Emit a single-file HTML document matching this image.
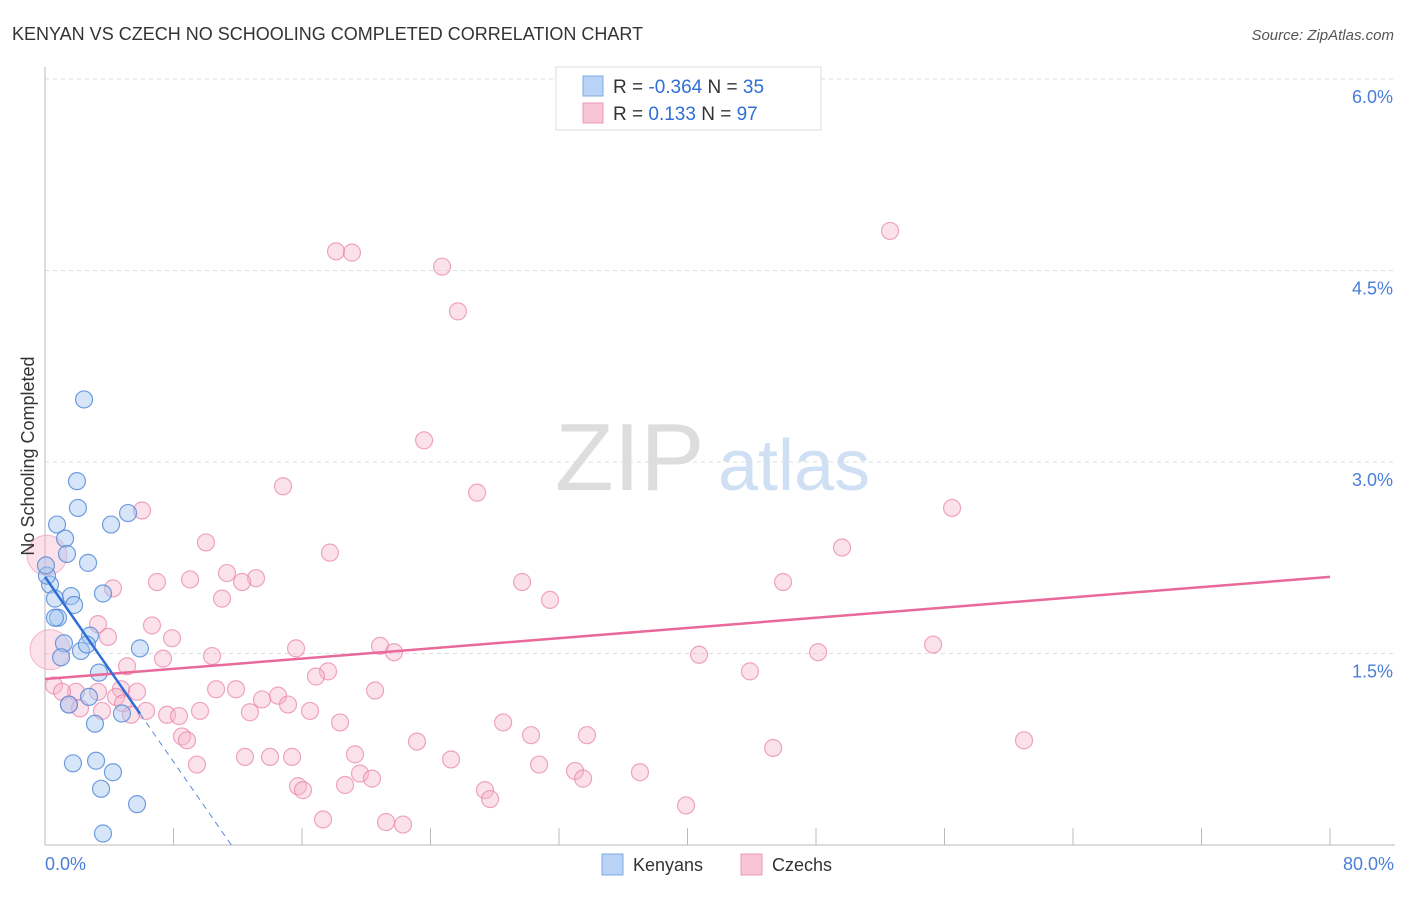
<!DOCTYPE html>
<html><head><meta charset="utf-8"><style>
body{margin:0;background:#fff;font-family:"Liberation Sans",sans-serif}
svg text{font-family:"Liberation Sans",sans-serif}
</style></head><body>
<svg width="1406" height="892" viewBox="0 0 1406 892">
<text x="12" y="40" font-size="18" fill="#333">KENYAN VS CZECH NO SCHOOLING COMPLETED CORRELATION CHART</text>
<text x="1394" y="40" font-size="15" fill="#555" font-style="italic" text-anchor="end">Source: ZipAtlas.com</text>
<text x="555" y="490" font-size="96" fill="#ddd" font-family="Liberation Serif">ZIP</text>
<text x="718" y="490" font-size="72" fill="#cfe0f5">atlas</text>
<g id="grid"></g>
<g id="axes"></g>
<g id="marks"></g>
<text transform="translate(34,456) rotate(-90)" font-size="18" fill="#333" text-anchor="middle">No Schooling Completed</text>
<text x="45" y="870" font-size="18" fill="#4a7fd8">0.0%</text>
<text x="1394" y="870" font-size="18" fill="#4a7fd8" text-anchor="end">80.0%</text>
<g>
<rect x="556" y="67" width="265" height="63" fill="#fff" stroke="#ddd"/>
<rect x="583" y="76" width="20" height="20" fill="#b8d3f5" stroke="#7fa8e0"/>
<rect x="583" y="103" width="20" height="20" fill="#f8c5d6" stroke="#eb98b5"/>
<text x="613" y="93" font-size="19" fill="#333">R = <tspan fill="#2f6fd6">-0.364</tspan>   N = <tspan fill="#2f6fd6">35</tspan></text>
<text x="613" y="120" font-size="19" fill="#333">R =   <tspan fill="#2f6fd6">0.133</tspan>   N = <tspan fill="#2f6fd6">97</tspan></text>
</g>
<g><rect x="602" y="854" width="21" height="21" fill="#b8d3f5" stroke="#7fa8e0"/><text x="633" y="871" font-size="18" fill="#333">Kenyans</text></g>
<g><rect x="741" y="854" width="21" height="21" fill="#f8c5d6" stroke="#eb98b5"/><text x="772" y="871" font-size="18" fill="#333">Czechs</text></g>
</svg>
<script>
const yTicks=[1.5,3.0,4.5,6.0];
const yTickLabels=["1.5%","3.0%","4.5%","6.0%"];
const xTicks=[0,8,16,24,32,40,48,56,64,72,80];
const kenyanX=[2.43,1.99,2.05,0.75,4.11,5.17,1.25,1.37,2.68,0.31,0.12,0.62,1.62,3.61,1.81,0.81,1.18,2.80,1.00,2.24,2.61,5.91,3.36,0.62,2.74,1.49,4.79,3.11,1.74,3.18,4.23,3.49,5.73,3.61,0.06];
const kenyanY=[3.49,2.85,2.64,2.51,2.51,2.60,2.40,2.28,2.21,2.04,2.11,1.93,1.95,1.97,1.88,1.78,1.58,1.64,1.47,1.52,1.57,1.54,1.35,1.78,1.16,1.10,1.03,0.95,0.64,0.66,0.57,0.44,0.32,0.09,2.19];
const czechX=[18.12,19.11,24.72,52.61,25.71,23.60,14.82,26.90,6.04,56.47,10.02,17.74,49.62,11.33,13.14,9.03,6.97,12.27,29.70,45.95,4.23,11.02,31.44,6.66,3.30,7.91,3.92,55.29,20.86,21.73,15.63,48.13,40.72,10.40,7.35,5.11,43.89,17.62,16.87,0.56,4.73,5.73,10.65,11.89,20.55,1.93,3.30,1.06,4.42,14.51,13.51,4.86,15.13,1.49,2.18,3.55,6.29,5.35,7.60,8.34,9.65,12.76,16.50,18.37,28.52,8.53,8.84,30.26,33.74,23.16,45.33,60.95,19.30,12.45,14.01,15.38,9.46,25.28,30.76,19.61,20.36,33.00,37.04,33.50,15.75,16.06,18.68,27.39,27.71,39.91,17.31,21.23,22.29,34.31];
const czechY=[4.65,4.64,4.53,4.81,4.18,3.17,2.81,2.76,2.62,2.64,2.37,2.29,2.33,2.13,2.09,2.08,2.06,2.06,2.06,2.06,2.01,1.93,1.92,1.72,1.73,1.62,1.63,1.57,1.56,1.51,1.54,1.51,1.49,1.48,1.46,1.40,1.36,1.36,1.32,1.25,1.22,1.20,1.22,1.22,1.21,1.20,1.20,1.20,1.16,1.17,1.14,1.11,1.10,1.10,1.07,1.05,1.05,1.02,1.02,1.01,1.05,1.04,1.05,0.96,0.96,0.85,0.82,0.86,0.86,0.81,0.76,0.82,0.71,0.69,0.69,0.69,0.63,0.67,0.63,0.56,0.52,0.58,0.57,0.52,0.46,0.43,0.47,0.43,0.36,0.31,0.20,0.18,0.16,5.70];
const bigX=[0.12,0.31];
const bigY=[2.27,1.53];
const kenyanTrendX=[0,5.91,11.6];
const kenyanTrendY=[2.10,1.03,0];
const czechTrendX=[0,80];
const czechTrendY=[1.30,2.10];
const NS='http://www.w3.org/2000/svg';
const X0=45,X1=1330,YB=845,PXPER=191.5/1.5;
const sx=v=>X0+v/80*(X1-X0);
const sy=v=>YB-v*PXPER;
function mk(tag,attrs,parent){const e=document.createElementNS(NS,tag);for(const k in attrs)e.setAttribute(k,attrs[k]);parent.appendChild(e);return e;}
const grid=document.getElementById('grid'),axes=document.getElementById('axes'),marks=document.getElementById('marks');
yTicks.forEach((t,i)=>{
 const l=mk('line',{x1:X0,x2:1395,y1:sy(t),y2:sy(t),stroke:'#ddd','stroke-dasharray':'4,4'},grid);
 
 
 const tx=mk('text',{x:1393,y:sy(t)+24,'font-size':18,fill:'#4a7fd8','text-anchor':'end'},grid);
 tx.textContent=yTickLabels[i];
 
 
});
const ya=mk('line',{x1:X0,x2:X0,y1:67,y2:YB,stroke:'#bbb'},axes);


const xa=mk('line',{x1:X0,x2:1395,y1:YB,y2:YB,stroke:'#bbb'},axes);


xTicks.forEach(t=>{
 const l=mk('line',{x1:sx(t),x2:sx(t),y1:YB-17,y2:YB,stroke:'#bbb'},axes);
 
 
});
bigX.forEach((v,i)=>{
 const c=mk('circle',{cx:sx(v),cy:sy(bigY[i]),r:20,fill:'rgba(245,170,195,0.35)',stroke:'rgba(235,143,176,0.6)'},marks);
 
 
});
czechX.forEach((v,i)=>{
 const c=mk('circle',{cx:sx(v),cy:sy(czechY[i]),r:8.5,fill:'rgba(246,180,202,0.4)',stroke:'rgba(232,130,168,0.7)','stroke-width':1.2},marks);
 
 
});
kenyanX.forEach((v,i)=>{
 const c=mk('circle',{cx:sx(v),cy:sy(kenyanY[i]),r:8.5,fill:'rgba(165,198,240,0.45)',stroke:'rgba(80,135,215,0.8)','stroke-width':1.2},marks);
 
 
});
const pl=mk('line',{x1:sx(czechTrendX[0]),y1:sy(czechTrendY[0]),x2:sx(czechTrendX[1]),y2:sy(czechTrendY[1]),stroke:'#e8699a','stroke-width':2.5},marks);


const bl=mk('line',{x1:sx(kenyanTrendX[0]),y1:sy(kenyanTrendY[0]),x2:sx(kenyanTrendX[1]),y2:sy(kenyanTrendY[1]),stroke:'#2f6fd6','stroke-width':2.5},marks);


const bd=mk('line',{x1:sx(kenyanTrendX[1]),y1:sy(kenyanTrendY[1]),x2:sx(kenyanTrendX[2]),y2:sy(kenyanTrendY[2]),stroke:'#5a88d8','stroke-width':1,'stroke-dasharray':'6,5'},marks);


</script>
</body></html>
